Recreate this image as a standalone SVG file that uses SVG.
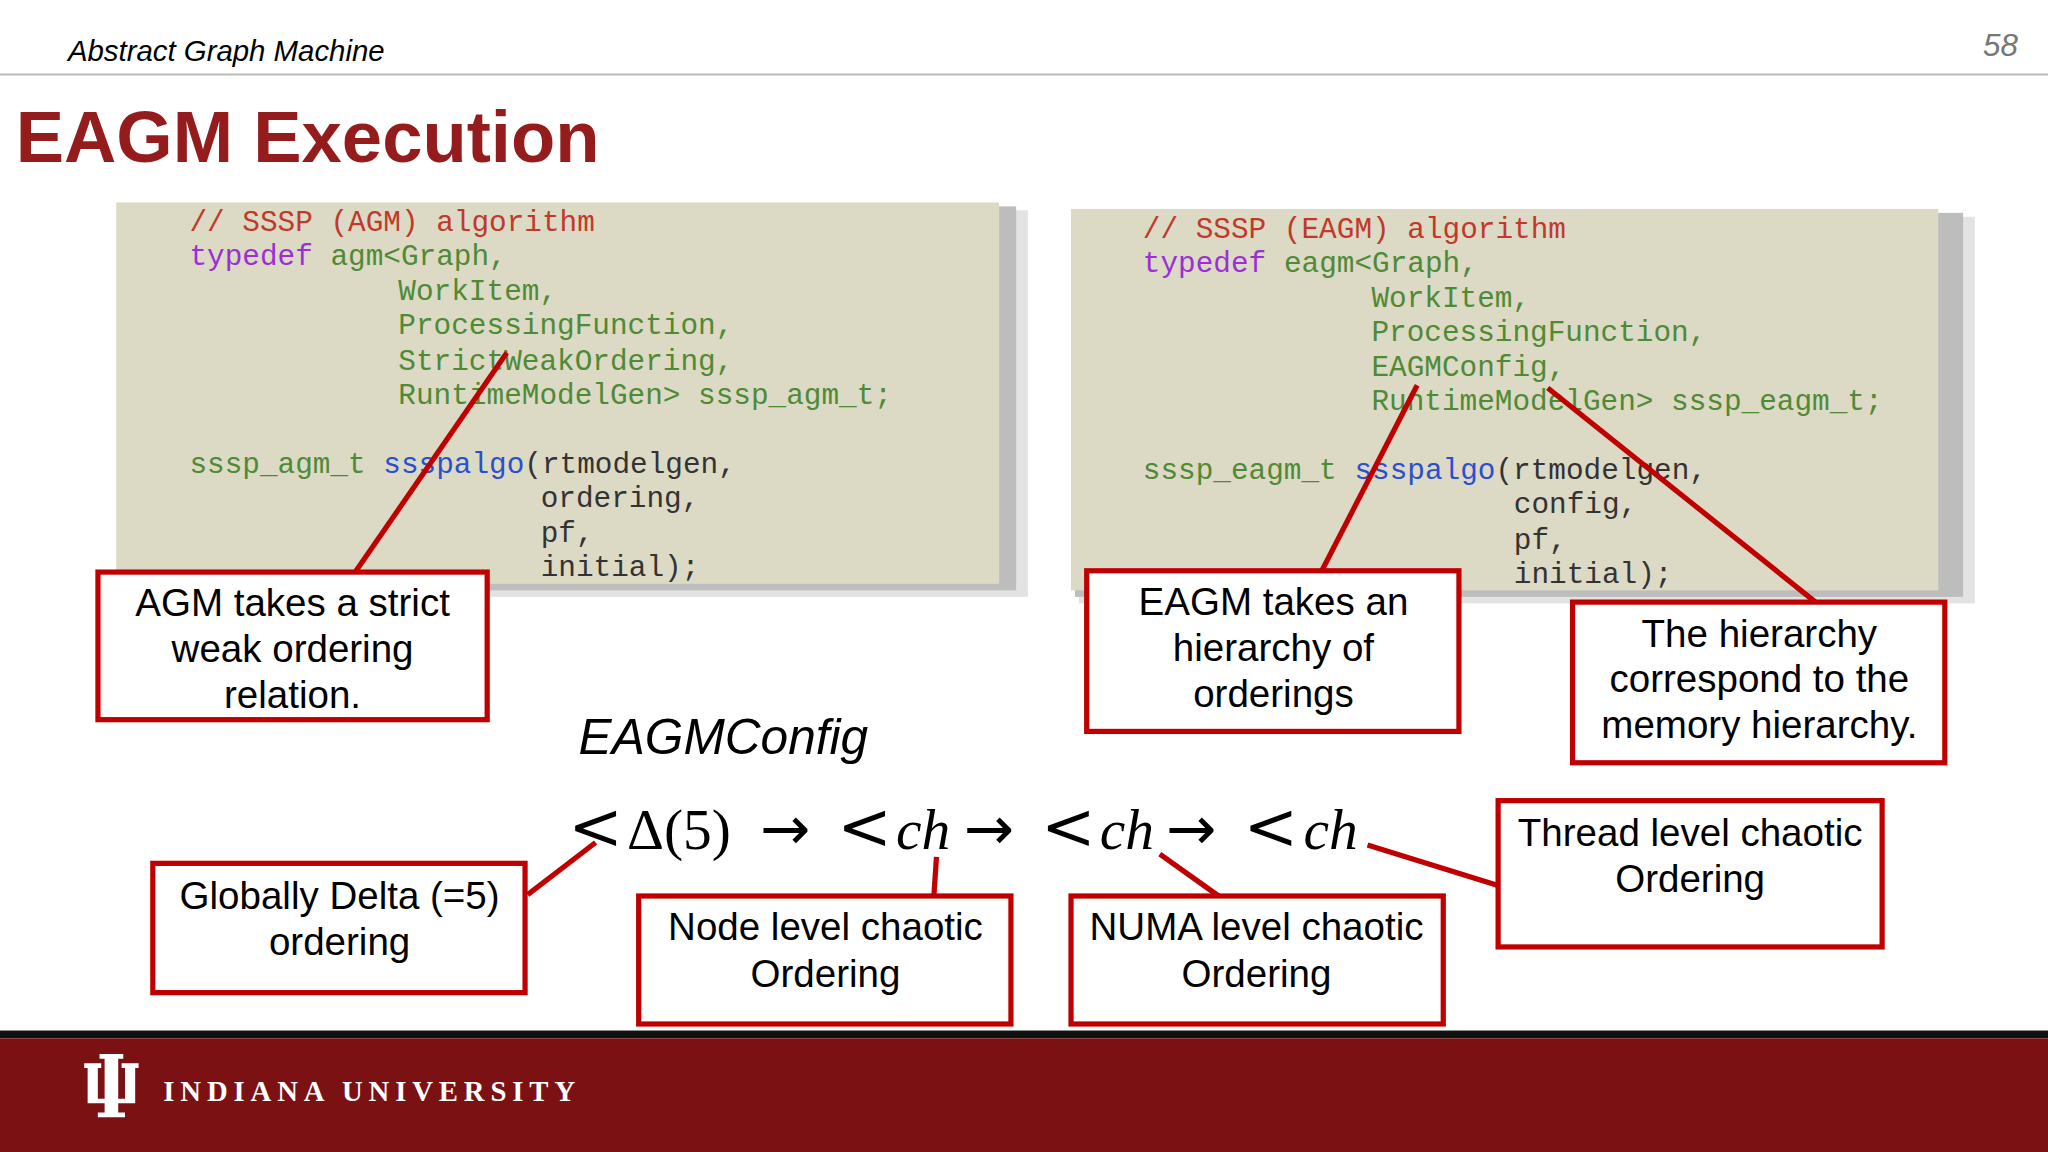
<svg xmlns="http://www.w3.org/2000/svg" width="2048" height="1152" viewBox="0 0 2048 1152">
<style>
.code{font-family:"Liberation Mono",monospace;font-size:22.5px;fill:#4f8a35;white-space:pre}
.cm{fill:#c0392b}.kw{fill:#9b2fd6}.fn{fill:#2a4fd0}.bk{fill:#333}
.box{fill:#fff;stroke:#c00000;stroke-width:4}
.lbl{font-family:"Liberation Sans",Arial,sans-serif;font-size:29.5px;fill:#000;text-anchor:middle}
.ln{stroke:#c00000;stroke-width:4;fill:none}
.m{font-family:"Liberation Serif","DejaVu Serif",serif;font-size:44px;fill:#000}
.ar{font-family:"DejaVu Sans",sans-serif;font-size:46px}
.lt{font-family:"DejaVu Serif",serif;font-size:50px}
</style>
<rect width="2048" height="1152" fill="#fff"/>
<g transform="scale(1.30612)">
<g id="header">
<text x="52" y="47" font-family="Liberation Sans,Arial,sans-serif" font-style="italic" font-size="22.5">Abstract Graph Machine</text>
<text x="1545" y="43" font-family="Liberation Sans,Arial,sans-serif" font-style="italic" font-size="24" fill="#777" text-anchor="end">58</text>
<line x1="0" y1="57" x2="1568" y2="57" stroke="#bbb" stroke-width="1.5"/>
<text x="12" y="124" font-family="Liberation Sans,Arial,sans-serif" font-weight="bold" font-size="55.5" fill="#941c1c">EAGM Execution</text>
</g>
<g id="code-left">
<rect x="95" y="161" width="692" height="296" fill="#e3e3e3"/>
<rect x="92" y="158" width="686" height="294" fill="#bdbdbd"/>
<rect x="89" y="155" width="676" height="292" fill="#dcd9c5"/>
<text class="code"><tspan x="145" y="177" class="cm">// SSSP (AGM) algorithm</tspan><tspan x="145" y="203"><tspan class="kw">typedef</tspan> agm&lt;Graph,</tspan><tspan x="305" y="230">WorkItem,</tspan><tspan x="305" y="256">ProcessingFunction,</tspan><tspan x="305" y="283">StrictWeakOrdering,</tspan><tspan x="305" y="309">RuntimeModelGen&gt; sssp_agm_t;</tspan><tspan x="145" y="362">sssp_agm_t <tspan class="fn">ssspalgo</tspan><tspan class="bk">(rtmodelgen,</tspan></tspan><tspan x="414" y="388" class="bk">ordering,</tspan><tspan x="414" y="415" class="bk">pf,</tspan><tspan x="414" y="441" class="bk">initial);</tspan></text>
</g>
<g id="code-right">
<rect x="826" y="166" width="686" height="296" fill="#e3e3e3"/>
<rect x="823" y="163" width="680" height="294" fill="#bdbdbd"/>
<rect x="820" y="160" width="664" height="292" fill="#dcd9c5"/>
<text class="code"><tspan x="875" y="182" class="cm">// SSSP (EAGM) algorithm</tspan><tspan x="875" y="208"><tspan class="kw">typedef</tspan> eagm&lt;Graph,</tspan><tspan x="1050" y="235">WorkItem,</tspan><tspan x="1050" y="261">ProcessingFunction,</tspan><tspan x="1050" y="288">EAGMConfig,</tspan><tspan x="1050" y="314">RuntimeModelGen&gt; sssp_eagm_t;</tspan><tspan x="875" y="367">sssp_eagm_t <tspan class="fn">ssspalgo</tspan><tspan class="bk">(rtmodelgen,</tspan></tspan><tspan x="1159" y="393" class="bk">config,</tspan><tspan x="1159" y="420" class="bk">pf,</tspan><tspan x="1159" y="446" class="bk">initial);</tspan></text>
</g>
<g id="formula">
<text x="443" y="577" font-family="Liberation Sans,Arial,sans-serif" font-style="italic" font-size="38">EAGMConfig</text>
<text class="m" y="650"><tspan x="435" class="lt">&lt;</tspan><tspan x="480">Δ(5)</tspan><tspan x="582" class="ar">→</tspan><tspan x="641" class="lt">&lt;</tspan><tspan x="686" font-style="italic">ch</tspan><tspan x="738" class="ar">→</tspan><tspan x="797" class="lt">&lt;</tspan><tspan x="842" font-style="italic">ch</tspan><tspan x="893" class="ar">→</tspan><tspan x="952" class="lt">&lt;</tspan><tspan x="998" font-style="italic">ch</tspan></text>
</g>
<g id="connectors">
<line class="ln" x1="272" y1="438" x2="388" y2="270"/>
<line class="ln" x1="1012" y1="437" x2="1085" y2="295"/>
<line class="ln" x1="1390" y1="461" x2="1185" y2="297"/>
<line class="ln" x1="404" y1="685" x2="456" y2="645"/>
<line class="ln" x1="715" y1="686" x2="717" y2="656"/>
<line class="ln" x1="933" y1="686" x2="888" y2="654"/>
<line class="ln" x1="1147" y1="678" x2="1047" y2="647"/>
</g>
<g id="n1"><rect class="box" x="75" y="438" width="298" height="113"/><text class="lbl"><tspan x="224" y="472">AGM takes a strict</tspan><tspan x="224" y="507">weak ordering</tspan><tspan x="224" y="542">relation.</tspan></text></g>
<g id="n2"><rect class="box" x="832" y="437" width="285" height="123"/><text class="lbl"><tspan x="975" y="471">EAGM takes an</tspan><tspan x="975" y="506">hierarchy of</tspan><tspan x="975" y="541">orderings</tspan></text></g>
<g id="n3"><rect class="box" x="1204" y="461" width="285" height="123"/><text class="lbl"><tspan x="1347" y="495">The hierarchy</tspan><tspan x="1347" y="530">correspond to the</tspan><tspan x="1347" y="565">memory hierarchy.</tspan></text></g>
<g id="n4"><rect class="box" x="117" y="661" width="285" height="99"/><text class="lbl"><tspan x="260" y="696">Globally Delta (=5)</tspan><tspan x="260" y="731">ordering</tspan></text></g>
<g id="n5"><rect class="box" x="489" y="686" width="285" height="98"/><text class="lbl"><tspan x="632" y="720">Node level chaotic</tspan><tspan x="632" y="756">Ordering</tspan></text></g>
<g id="n6"><rect class="box" x="820" y="686" width="285" height="98"/><text class="lbl"><tspan x="962" y="720">NUMA level chaotic</tspan><tspan x="962" y="756">Ordering</tspan></text></g>
<g id="n7"><rect class="box" x="1147" y="613" width="294" height="112"/><text class="lbl"><tspan x="1294" y="648">Thread level chaotic</tspan><tspan x="1294" y="683">Ordering</tspan></text></g>
<g id="footer">
<rect x="0" y="789" width="1568" height="6" fill="#111"/>
<rect x="0" y="795" width="1568" height="87" fill="#7c1114"/>
<path fill="#fff" d="M65,817h10v3h-2v20h4v-26h-3v-3h14v3h-3v26h4v-20h-2v-3h10v3h-2v23h-10v6h4v3h-16v-3h4v-6h-10v-23h-2z" transform="translate(-20,-150) scale(1.3 1.18)"/>
<text x="125" y="843" font-family="Liberation Serif,serif" font-weight="bold" font-size="22" letter-spacing="4.5" fill="#fff">INDIANA UNIVERSITY</text>
</g>
</g>
</svg>
